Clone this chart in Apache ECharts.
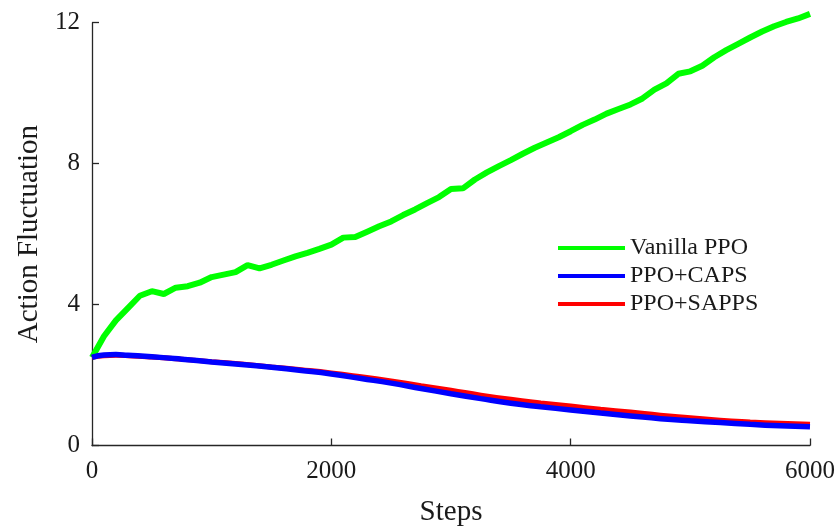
<!DOCTYPE html>
<html>
<head>
<meta charset="utf-8">
<script src="https://cdn.jsdelivr.net/npm/echarts@6/dist/echarts.min.js"></script>
<style>html,body{margin:0;padding:0;background:#fff}#c{width:840px;height:527px}</style>
</head>
<body>
<div id="c"></div>
<script>
const seriesNames = ['Vanilla PPO', 'PPO+CAPS', 'PPO+SAPPS'];
const xTicks = [0, 2000, 4000, 6000];
const yTicks = [0, 4, 8, 12];

const vanillaSteps = [0,100,200,300,400,500,600,700,800,900,1000,1100,1200,1300,1400,1500,1600,1700,1800,1900,2000,2100,2200,2300,2400,2500,2600,2700,2800,2900,3000,3100,3200,3300,3400,3500,3600,3700,3800,3900,4000,4100,4200,4300,4400,4500,4600,4700,4800,4900,5000,5100,5200,5300,5400,5500,5600,5700,5800,5900,6000];
const vanillaValues = [2.50,3.10,3.55,3.90,4.25,4.38,4.30,4.48,4.52,4.62,4.78,4.85,4.92,5.12,5.03,5.13,5.25,5.37,5.47,5.58,5.70,5.90,5.92,6.07,6.22,6.36,6.54,6.70,6.88,7.05,7.28,7.30,7.55,7.75,7.93,8.10,8.28,8.45,8.60,8.75,8.92,9.10,9.25,9.42,9.55,9.68,9.85,10.10,10.28,10.55,10.62,10.78,11.02,11.22,11.40,11.58,11.75,11.90,12.02,12.12,12.25];

const smoothSteps = [0,100,200,300,500,750,1000,1250,1500,1750,2000,2250,2500,2750,3000,3250,3500,3750,4000,4250,4500,4750,5000,5250,5500,5750,6000];
const capsValues = [2.50,2.57,2.58,2.56,2.52,2.45,2.37,2.30,2.22,2.13,2.03,1.90,1.77,1.62,1.47,1.33,1.20,1.10,1.01,0.92,0.84,0.76,0.70,0.65,0.60,0.56,0.53];
const sappsValues = [2.50,2.55,2.56,2.55,2.51,2.45,2.38,2.31,2.23,2.15,2.06,1.95,1.83,1.70,1.57,1.43,1.31,1.21,1.12,1.03,0.95,0.86,0.79,0.72,0.67,0.63,0.60];

const colors = ['#00ff00', '#0000ff', '#ff0000'];
const pair = (xs, ys) => xs.map((x, i) => [x, ys[i]]);
const font = '"Liberation Serif", "Times New Roman", serif';
const ink = '#1a1a1a';

const chart = echarts.init(document.getElementById('c'), null, {renderer: 'canvas'});
chart.setOption({
  animation: false,
  backgroundColor: '#fff',
  grid: {left: 92, right: 30, top: 22.7, bottom: 81.5, containLabel: false, outerBoundsMode: 'none'},
  legend: {
    left: 553, top: 231, orient: 'vertical',
    itemWidth: 67, itemHeight: 4, itemGap: 4, itemTextGap: 7,
    icon: 'rect',
    data: seriesNames,
    textStyle: {fontFamily: font, fontSize: 24, color: ink, lineHeight: 24}
  },
  xAxis: {
    type: 'value', min: xTicks[0], max: xTicks[xTicks.length - 1], interval: 2000,
    name: 'Steps', nameLocation: 'middle', nameGap: 52,
    nameTextStyle: {fontFamily: font, fontSize: 29, color: ink},
    axisLine: {show: true, onZero: false, lineStyle: {color: '#262626', width: 1.3}},
    axisTick: {show: true, inside: true, length: 7, lineStyle: {color: '#262626', width: 1.3}},
    axisLabel: {fontFamily: font, fontSize: 25, color: ink, margin: 13, formatter: v => String(v)},
    splitLine: {show: false}
  },
  yAxis: {
    type: 'value', min: yTicks[0], max: yTicks[yTicks.length - 1], interval: 4,
    name: 'Action Fluctuation', nameLocation: 'middle', nameGap: 48,
    nameTextStyle: {fontFamily: font, fontSize: 29, color: ink},
    axisLine: {show: true, onZero: false, lineStyle: {color: '#262626', width: 1.3}},
    axisTick: {show: true, inside: true, length: 7, lineStyle: {color: '#262626', width: 1.3}},
    axisLabel: {fontFamily: font, fontSize: 25, color: ink, margin: 12, formatter: v => String(v)},
    splitLine: {show: false}
  },
  series: [
    {name: seriesNames[2], type: 'line', data: pair(smoothSteps, sappsValues), smooth: true, clip: false, showSymbol: false, symbol: 'none', itemStyle: {color: colors[2]}, lineStyle: {color: colors[2], width: 5}, z: 2},
    {name: seriesNames[0], type: 'line', data: pair(vanillaSteps, vanillaValues), clip: false, showSymbol: false, symbol: 'none', itemStyle: {color: colors[0]}, lineStyle: {color: colors[0], width: 6}, z: 1},
    {name: seriesNames[1], type: 'line', data: pair(smoothSteps, capsValues), smooth: true, clip: false, showSymbol: false, symbol: 'none', itemStyle: {color: colors[1]}, lineStyle: {color: colors[1], width: 5.5}, z: 3}
  ]
});
</script>
</body>
</html>
